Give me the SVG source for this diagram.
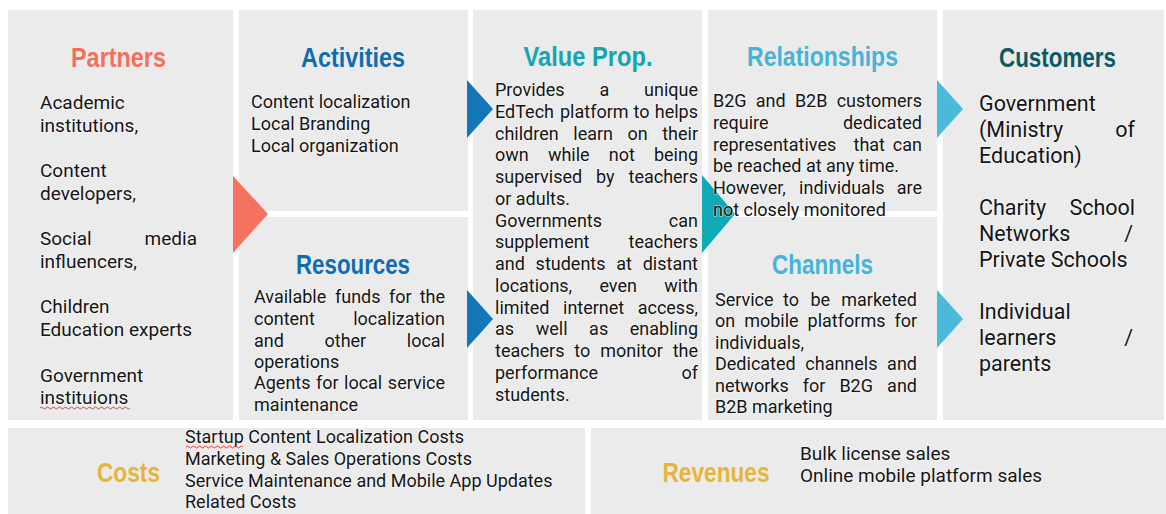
<svg xmlns="http://www.w3.org/2000/svg" width="1166" height="514" viewBox="0 0 1166 514">
  <style>
    .panel { fill: #EBEBEB; }
    .title { font-family: 'Liberation Sans', Arial, sans-serif; font-weight: bold; font-size: 28px; text-anchor: middle; }
    .body { font-family: Roboto, 'Liberation Sans', sans-serif; font-size: 18px; fill: #141414; stroke: #FFFFFF; stroke-width: 1.6px; stroke-opacity: 0.55; stroke-linejoin: round; paint-order: stroke; }
    .p19 { font-size: 19px; }
    .big { font-size: 21.5px; }
    .e { text-anchor: end; }
    .wavy { fill: none; stroke: #E0413A; stroke-width: 1; }
  </style>
  <rect width="1166" height="514" fill="#FFFFFF"/>

  <!-- grey tiles of the canvas -->
  <g id="tiles">
    <rect id="tile-partners" class="panel" x="8" y="10" width="225" height="410"/>
    <rect id="tile-activities" class="panel" x="239" y="10" width="229" height="201"/>
    <rect id="tile-resources" class="panel" x="239" y="217" width="229" height="203"/>
    <rect id="tile-value-prop" class="panel" x="473" y="10" width="229" height="410"/>
    <rect id="tile-relationships" class="panel" x="708" y="10" width="229" height="201"/>
    <rect id="tile-channels" class="panel" x="708" y="217" width="229" height="203"/>
    <rect id="tile-customers" class="panel" x="943" y="10" width="221" height="410"/>
    <rect id="tile-costs" class="panel" x="8" y="428" width="577" height="86"/>
    <rect id="tile-revenues" class="panel" x="591" y="428" width="575" height="86"/>
  </g>

  <!-- flow arrows between blocks -->
  <g id="connectors">
    <polygon points="233,176 268,214 233,253" fill="#F4725F"/>
    <polygon points="467,80 493,109 467,138" fill="#1276B9"/>
    <polygon points="467,290 493,319 467,348" fill="#1276B9"/>
    <polygon points="702,175 735,214 702,253" fill="#0FAAB6"/>
    <polygon points="937,80 963,109 937,138" fill="#4BB9DA"/>
    <polygon points="937,290 963,319 937,348" fill="#4BB9DA"/>
  </g>

  <!-- justified lines: tspans are written back to back so no stray space shifts end-anchored words -->
  <g id="partners">
    <text class="title" x="118.5" y="67" fill="#F2715E" textLength="95" lengthAdjust="spacingAndGlyphs">Partners</text>
    <text class="body p19"><tspan x="40" y="109">Academic</tspan><tspan
      x="40" y="131.7">institutions,</tspan><tspan
      x="40" y="177">Content</tspan><tspan
      x="40" y="199.8">developers,</tspan><tspan
      x="40" y="245.2">Social</tspan><tspan class="e" x="197" y="245.2">media</tspan><tspan
      x="40" y="268">influencers,</tspan><tspan
      x="40" y="313.4">Children</tspan><tspan
      x="40" y="336">Education experts</tspan><tspan
      x="40" y="381.5">Government</tspan><tspan
      x="40" y="404">instituions</tspan></text>
    <path class="wavy" d="M40 408 q1.5 -2 3 0 t3 0 t3 0 t3 0 t3 0 t3 0 t3 0 t3 0 t3 0 t3 0 t3 0 t3 0 t3 0 t3 0 t3 0 t3 0 t3 0 t3 0 t3 0 t3 0 t3 0 t3 0 t3 0 t3 0 t3 0 t3 0 t3 0 t3 0 t3 0 t3 0"/>
  </g>

  <g id="activities">
    <text class="title" x="353" y="67" fill="#0E6DB0" textLength="104" lengthAdjust="spacingAndGlyphs">Activities</text>
    <text class="body"><tspan x="251" y="108">Content localization</tspan><tspan
      x="251" y="130">Local Branding</tspan><tspan
      x="251" y="152">Local organization</tspan></text>
  </g>

  <g id="resources">
    <text class="title" x="353" y="274" fill="#0E6DB0" textLength="114" lengthAdjust="spacingAndGlyphs">Resources</text>
    <text class="body"><tspan x="254" y="303">Available</tspan><tspan x="335" y="303">funds</tspan><tspan x="389" y="303">for</tspan><tspan class="e" x="445" y="303">the</tspan><tspan
      x="254" y="325">content</tspan><tspan class="e" x="445" y="325">localization</tspan><tspan
      x="254" y="347">and</tspan><tspan x="324.5" y="347">other</tspan><tspan class="e" x="445" y="347">local</tspan><tspan
      x="254" y="368">operations</tspan><tspan
      x="254" y="389">Agents</tspan><tspan x="316" y="389">for</tspan><tspan x="344" y="389">local</tspan><tspan class="e" x="445" y="389">service</tspan><tspan
      x="254" y="411">maintenance</tspan></text>
  </g>

  <g id="value-prop">
    <text class="title" x="588" y="66" fill="#14A5B0" textLength="129" lengthAdjust="spacingAndGlyphs">Value Prop.</text>
    <text class="body"><tspan x="495" y="96">Provides</tspan><tspan x="599.5" y="96">a</tspan><tspan class="e" x="698" y="96">unique</tspan><tspan
      x="495" y="117.75">EdTech</tspan><tspan x="560" y="117.75">platform</tspan><tspan x="633.6" y="117.75">to</tspan><tspan class="e" x="698" y="117.75">helps</tspan><tspan
      x="495" y="139.5">children</tspan><tspan x="573.3" y="139.5">learn</tspan><tspan x="627.5" y="139.5">on</tspan><tspan class="e" x="698" y="139.5">their</tspan><tspan
      x="495" y="161.25">own</tspan><tspan x="547.9" y="161.25">while</tspan><tspan x="608.8" y="161.25">not</tspan><tspan class="e" x="698" y="161.25">being</tspan><tspan
      x="495" y="183">supervised</tspan><tspan x="596" y="183">by</tspan><tspan class="e" x="698" y="183">teachers</tspan><tspan
      x="495" y="204.75">or adults.</tspan><tspan
      x="495" y="226.5">Governments</tspan><tspan class="e" x="698" y="226.5">can</tspan><tspan
      x="495" y="248.25">supplement</tspan><tspan class="e" x="698" y="248.25">teachers</tspan><tspan
      x="495" y="270">and</tspan><tspan x="535.6" y="270">students</tspan><tspan x="616.2" y="270">at</tspan><tspan class="e" x="698" y="270">distant</tspan><tspan
      x="495" y="291.75">locations,</tspan><tspan x="599.4" y="291.75">even</tspan><tspan class="e" x="698" y="291.75">with</tspan><tspan
      x="495" y="313.5">limited</tspan><tspan x="563" y="313.5">internet</tspan><tspan class="e" x="698" y="313.5">access,</tspan><tspan
      x="495" y="335.25">as</tspan><tspan x="535.7" y="335.25">well</tspan><tspan x="589.1" y="335.25">as</tspan><tspan class="e" x="698" y="335.25">enabling</tspan><tspan
      x="495" y="357">teachers</tspan><tspan x="574.3" y="357">to</tspan><tspan x="600.3" y="357">monitor</tspan><tspan class="e" x="698" y="357">the</tspan><tspan
      x="495" y="378.75">performance</tspan><tspan class="e" x="698" y="378.75">of</tspan><tspan
      x="495" y="400.5">students.</tspan></text>
  </g>

  <g id="relationships">
    <text class="title" x="822.5" y="66" fill="#45B4D6" textLength="151" lengthAdjust="spacingAndGlyphs">Relationships</text>
    <text class="body"><tspan x="713" y="107">B2G</tspan><tspan x="755.8" y="107">and</tspan><tspan x="794.9" y="107">B2B</tspan><tspan class="e" x="922" y="107">customers</tspan><tspan
      x="713" y="128.7">require</tspan><tspan class="e" x="922" y="128.7">dedicated</tspan><tspan
      x="713" y="150.5">representatives</tspan><tspan x="853.5" y="150.5">that</tspan><tspan class="e" x="922" y="150.5">can</tspan><tspan
      x="713" y="172.2">be reached at any time.</tspan><tspan
      x="713" y="194">However,</tspan><tspan x="799.1" y="194">individuals</tspan><tspan class="e" x="922" y="194">are</tspan><tspan
      x="713" y="215.7">not closely monitored</tspan></text>
  </g>

  <g id="channels">
    <text class="title" x="822.5" y="274" fill="#45B4D6" textLength="101" lengthAdjust="spacingAndGlyphs">Channels</text>
    <text class="body"><tspan x="715" y="305.5">Service</tspan><tspan x="783.1" y="305.5">to</tspan><tspan x="810.4" y="305.5">be</tspan><tspan class="e" x="917" y="305.5">marketed</tspan><tspan
      x="715" y="327">on</tspan><tspan x="744.2" y="327">mobile</tspan><tspan x="807.6" y="327">platforms</tspan><tspan class="e" x="917" y="327">for</tspan><tspan
      x="715" y="348.5">individuals,</tspan><tspan
      x="715" y="370">Dedicated</tspan><tspan x="805.3" y="370">channels</tspan><tspan class="e" x="917" y="370">and</tspan><tspan
      x="715" y="391.5">networks</tspan><tspan x="802.7" y="391.5">for</tspan><tspan x="839.4" y="391.5">B2G</tspan><tspan class="e" x="917" y="391.5">and</tspan><tspan
      x="715" y="413">B2B marketing</tspan></text>
  </g>

  <g id="customers">
    <text class="title" x="1057.5" y="67" fill="#0B5C62" textLength="117" lengthAdjust="spacingAndGlyphs">Customers</text>
    <text class="body big"><tspan x="979" y="111">Government</tspan><tspan
      x="979" y="137">(Ministry</tspan><tspan class="e" x="1135" y="137">of</tspan><tspan
      x="979" y="163">Education)</tspan><tspan
      x="979" y="215">Charity</tspan><tspan class="e" x="1135" y="215">School</tspan><tspan
      x="979" y="241">Networks</tspan><tspan class="e" x="1133" y="241">/</tspan><tspan
      x="979" y="267">Private Schools</tspan><tspan
      x="979" y="319">Individual</tspan><tspan
      x="979" y="345">learners</tspan><tspan class="e" x="1133" y="345">/</tspan><tspan
      x="979" y="371">parents</tspan></text>
  </g>

  <g id="costs">
    <text class="title" x="128.5" y="482" fill="#E6B53A" textLength="63" lengthAdjust="spacingAndGlyphs">Costs</text>
    <text class="body"><tspan x="185" y="443">Startup Content Localization Costs</tspan><tspan
      x="185" y="465">Marketing &amp; Sales Operations Costs</tspan><tspan
      x="185" y="487">Service Maintenance and Mobile App Updates</tspan><tspan
      x="185" y="508">Related Costs</tspan></text>
    <path class="wavy" d="M186 447 q1.5 -2 3 0 t3 0 t3 0 t3 0 t3 0 t3 0 t3 0 t3 0 t3 0 t3 0 t3 0 t3 0 t3 0 t3 0 t3 0 t3 0 t3 0 t3 0 t3 0"/>
  </g>

  <g id="revenues">
    <text class="title" x="716" y="482" fill="#E6B53A" textLength="107" lengthAdjust="spacingAndGlyphs">Revenues</text>
    <text class="body p19"><tspan x="800" y="460">Bulk license sales</tspan><tspan
      x="800" y="482">Online mobile platform sales</tspan></text>
  </g>
</svg>
